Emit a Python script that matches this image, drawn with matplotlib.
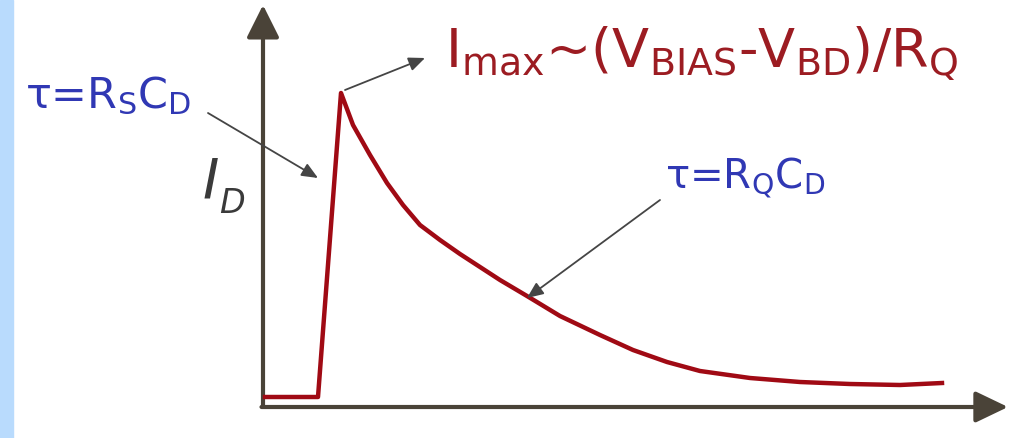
import matplotlib
matplotlib.use("Agg")
import matplotlib.pyplot as plt
from matplotlib.patches import Rectangle

plt.rcParams['font.family'] = ['DejaVu Sans']
plt.rcParams['mathtext.default'] = 'regular'

# pulse data: time (arb. units) and diode current (arb. units)
t = [2, 55, 78, 90, 107, 124, 140, 157, 177, 197, 217, 237, 264, 297, 337,
     370, 404, 437, 487, 537, 587, 637, 679]
i_d = [8, 8, 312, 280, 250, 222, 200, 180, 165, 151, 138, 125, 109, 89, 70,
       55, 43, 34, 27, 23, 21, 20, 22]

t_max = 745
i_max = 400

axis_col = '#4a4338'
curve_col = '#a00a14'
blue = '#3038b4'
red_txt = '#9c1c22'
arrow_col = '#454545'

fig = plt.figure(figsize=(10.19, 4.38), dpi=100)
fig.patches.append(Rectangle((0, 0), 13 / 1019, 1, transform=fig.transFigure,
                             color='#b9dbfd', zorder=0))
ax = fig.add_axes([0, 0, 1, 1])
ax.set_xlim(-263, 756)
ax.set_ylim(-33, 405)
ax.axis('off')

# axes with arrowheads
ax.annotate('', xy=(0, i_max), xytext=(0, -2),
            arrowprops=dict(arrowstyle='-|>,head_length=1.0,head_width=0.5',
                            mutation_scale=20, lw=3, color=axis_col,
                            shrinkA=0, shrinkB=0))
ax.annotate('', xy=(t_max, -2), xytext=(-1.5, -2),
            arrowprops=dict(arrowstyle='-|>,head_length=1.0,head_width=0.48',
                            mutation_scale=20, lw=3, color=axis_col,
                            shrinkA=0, shrinkB=0))

ax.plot(t, i_d, color=curve_col, lw=3.2, solid_joinstyle='round', zorder=3)

ax.text(-60, 207, 'I', fontsize=40, color='#3a3a3a', ha='left', va='baseline',
        style='italic')
ax.text(-44, 192, 'D', fontsize=24, color='#3a3a3a', ha='left', va='baseline',
        style='italic')

ax.text(-238, 297, r'$\tau$=R$_{S}$C$_{D}$', fontsize=31, color=blue,
        ha='left', va='baseline')
ax.text(402, 216, r'$\tau$=R$_{Q}$C$_{D}$', fontsize=29, color=blue,
        ha='left', va='baseline')
ax.text(182, 338, r'I$_{max}$~(V$_{BIAS}$-V$_{BD}$)/R$_{Q}$', fontsize=39,
        color=red_txt, ha='left', va='baseline')

arr = dict(arrowstyle='-|>,head_length=0.7,head_width=0.3', mutation_scale=14,
           lw=1.3, color=arrow_col, shrinkA=0, shrinkB=0)
ax.annotate('', xy=(55, 227), xytext=(-55, 292), arrowprops=arr)
ax.annotate('', xy=(162, 347), xytext=(82, 315), arrowprops=arr)
ax.annotate('', xy=(264, 107), xytext=(397, 205), arrowprops=arr)

fig.savefig('out.png', dpi=100)
